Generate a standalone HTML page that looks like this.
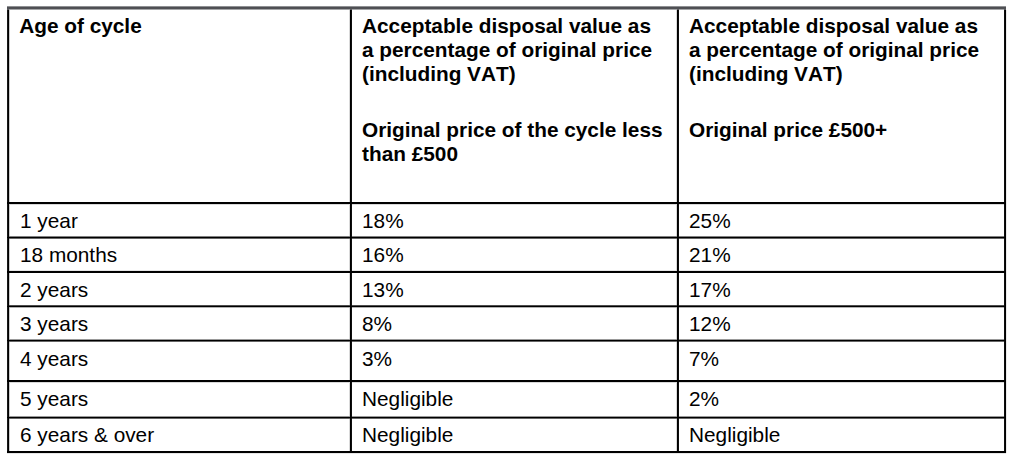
<!DOCTYPE html>
<html>
<head>
<meta charset="utf-8">
<title>Cycle disposal value table</title>
<style>
html,body{margin:0;padding:0;background:#fff;}
body{width:1017px;height:462px;position:relative;overflow:hidden;font-family:"Liberation Sans",sans-serif;color:#000;}
.l{position:absolute;background:#000;}
.h{left:7px;width:999px;height:1px;}
.v{top:10px;width:1px;height:443px;}
.t{position:absolute;white-space:nowrap;font-size:20.8px;line-height:24px;height:24px;font-kerning:none;}
.b{font-weight:bold;}
</style>
</head>
<body>
<!-- rules (anti-aliased fringes first, solid last) -->
<div class="l v" style="left:1006px;background:#ebebeb"></div>
<div class="l h" style="top:270px;background:#e6e6e6"></div>
<div class="l h" style="top:453px;background:#e6e6e6"></div>
<div class="l v" style="left:349px;background:#d9d9d9"></div>
<div class="l v" style="left:676px;background:#d9d9d9"></div>
<div class="l h" style="top:204px;background:#d9d9d9"></div>
<div class="l h" style="top:382px;background:#d9d9d9"></div>
<div class="l v" style="left:9px;background:#cccccc"></div>
<div class="l h" style="top:307px;background:#b2b2b2"></div>
<div class="l h" style="top:339px;background:#999999"></div>
<div class="l h" style="top:416px;background:#999999"></div>
<div class="l h" style="top:236px;background:#808080"></div>
<div class="l h" style="top:238px;background:#666666"></div>
<div class="l h" style="top:341px;background:#666666"></div>
<div class="l h" style="top:418px;background:#666666"></div>
<div class="l h" style="top:305px;background:#4d4d4d"></div>
<div class="l v" style="left:7px;background:#191919"></div>
<div class="l v" style="left:351px;background:#0d0d0d"></div>
<div class="l v" style="left:678px;background:#0d0d0d"></div>
<div class="l v" style="left:1004px;background:#0d0d0d"></div>
<div class="l v" style="left:8px;background:#000000"></div>
<div class="l v" style="left:350px;background:#000000"></div>
<div class="l v" style="left:677px;background:#000000"></div>
<div class="l v" style="left:1005px;background:#000000"></div>
<div class="l h" style="top:202px;background:#000000"></div>
<div class="l h" style="top:203px;background:#000000"></div>
<div class="l h" style="top:237px;background:#000000"></div>
<div class="l h" style="top:271px;background:#000000"></div>
<div class="l h" style="top:272px;background:#000000"></div>
<div class="l h" style="top:306px;background:#000000"></div>
<div class="l h" style="top:340px;background:#000000"></div>
<div class="l h" style="top:380px;background:#000000"></div>
<div class="l h" style="top:381px;background:#000000"></div>
<div class="l h" style="top:417px;background:#000000"></div>
<div class="l h" style="top:451px;background:#000000"></div>
<div class="l h" style="top:452px;background:#000000"></div>
<!-- top grey border -->
<div class="l h" style="top:6px;background:#8f9093"></div>
<div class="l h" style="top:7px;background:#4e4f53"></div>
<div class="l h" style="top:8px;background:#505155"></div>
<div class="l h" style="top:9px;background:#a5a6a8"></div>
<!-- junction pixels where vertical rules meet the grey top border -->
<div class="l" style="left:7px;top:9px;width:2px;height:1px;background:#58585b"></div>
<div class="l" style="left:350px;top:9px;width:2px;height:1px;background:#58585b"></div>
<div class="l" style="left:677px;top:9px;width:2px;height:1px;background:#58585b"></div>
<div class="l" style="left:1004px;top:9px;width:2px;height:1px;background:#58585b"></div>
<!-- header -->
<div class="t b" style="left:19.2px;top:14px">Age of cycle</div>
<div class="t b" style="left:362px;top:14px">Acceptable disposal value as</div>
<div class="t b" style="left:362px;top:38px">a percentage of original price</div>
<div class="t b" style="left:362px;top:62px">(including VAT)</div>
<div class="t b" style="left:689px;top:14px">Acceptable disposal value as</div>
<div class="t b" style="left:689px;top:38px">a percentage of original price</div>
<div class="t b" style="left:689px;top:62px">(including VAT)</div>
<div class="t b" style="left:362px;top:118px">Original price of the cycle less</div>
<div class="t b" style="left:362px;top:142px">than £500</div>
<div class="t b" style="left:689px;top:118px">Original price £500+</div>
<!-- body rows -->
<div class="t" style="left:20px;top:209px">1 year</div>
<div class="t" style="left:362px;top:209px">18%</div>
<div class="t" style="left:689px;top:209px">25%</div>
<div class="t" style="left:20px;top:243px">18 months</div>
<div class="t" style="left:362px;top:243px">16%</div>
<div class="t" style="left:689px;top:243px">21%</div>
<div class="t" style="left:20px;top:278px">2 years</div>
<div class="t" style="left:362px;top:278px">13%</div>
<div class="t" style="left:689px;top:278px">17%</div>
<div class="t" style="left:20px;top:312px">3 years</div>
<div class="t" style="left:362px;top:312px">8%</div>
<div class="t" style="left:689px;top:312px">12%</div>
<div class="t" style="left:20px;top:347px">4 years</div>
<div class="t" style="left:362px;top:347px">3%</div>
<div class="t" style="left:689px;top:347px">7%</div>
<div class="t" style="left:20px;top:387px">5 years</div>
<div class="t" style="left:362px;top:387px">Negligible</div>
<div class="t" style="left:689px;top:387px">2%</div>
<div class="t" style="left:20px;top:423px">6 years &amp; over</div>
<div class="t" style="left:362px;top:423px">Negligible</div>
<div class="t" style="left:689px;top:423px">Negligible</div>
</body>
</html>
